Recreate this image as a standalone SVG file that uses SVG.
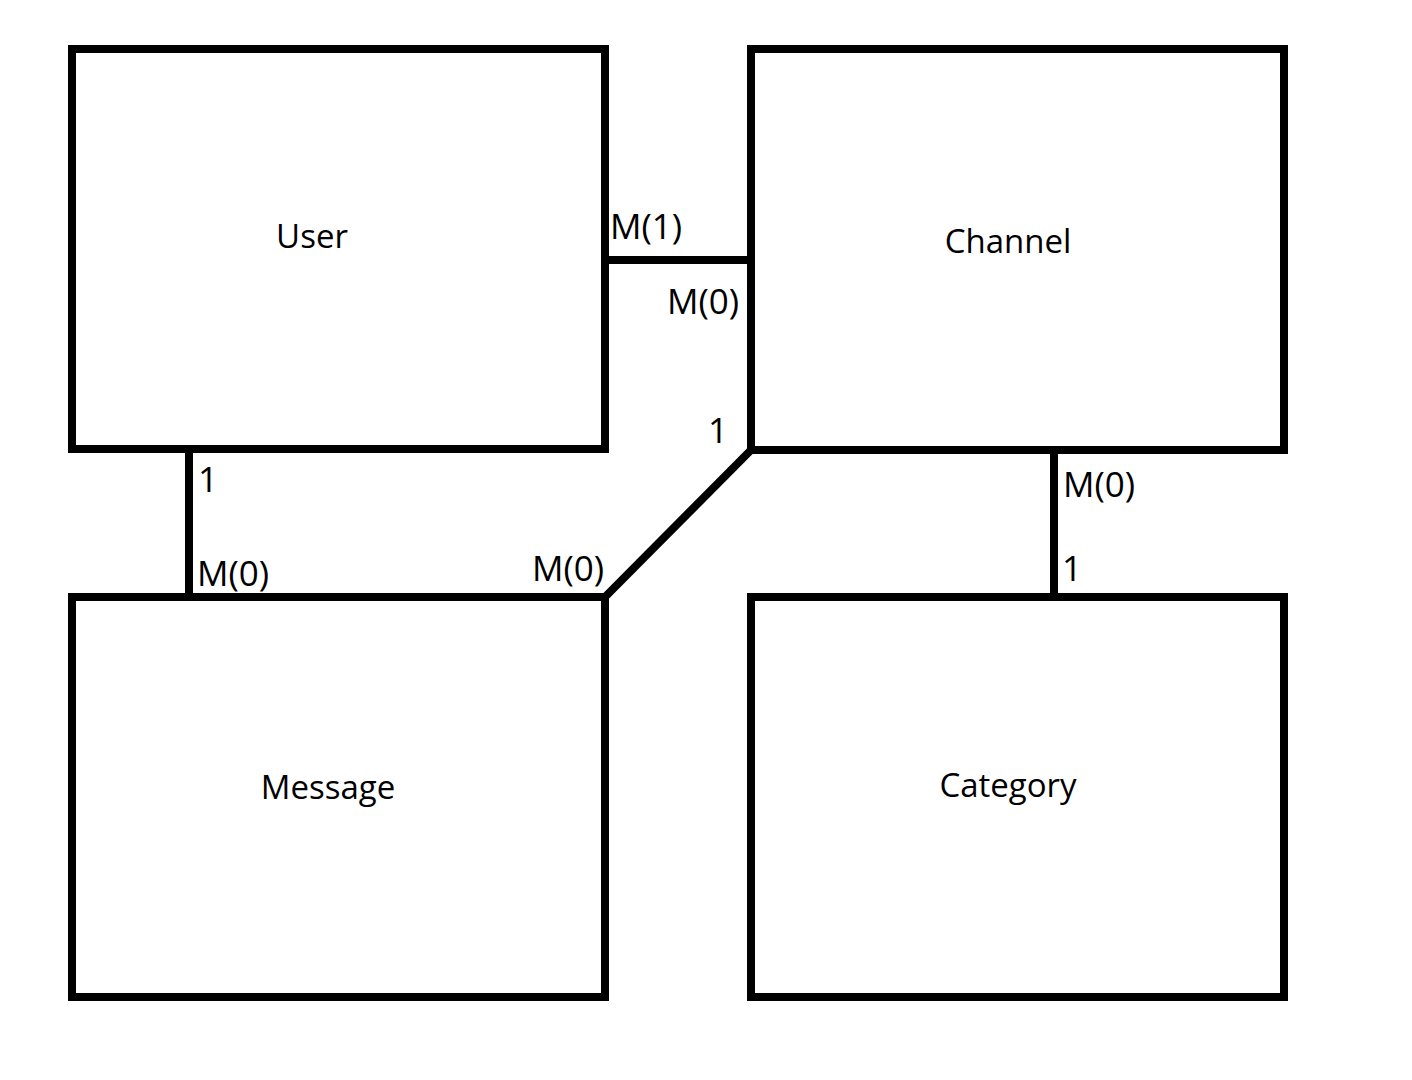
<svg xmlns="http://www.w3.org/2000/svg" width="1412" height="1080" viewBox="0 0 1412 1080">
<style>
.box{fill:#fff;stroke:#000;stroke-width:8}
.ln{stroke:#000;stroke-width:8;fill:none}
text{font-family:"Open Sans","Liberation Sans",sans-serif;font-size:33px;fill:#000}
.c{text-anchor:middle}
.lb{font-size:35px}
</style>
<rect width="1412" height="1080" fill="#fff"/>
<g id="connectors">
<line class="ln" x1="605" y1="260" x2="751" y2="260"/>
<line class="ln" x1="189" y1="449" x2="189" y2="597"/>
<line class="ln" x1="1054" y1="450" x2="1054" y2="597"/>
<line class="ln" x1="751" y1="450" x2="605" y2="597"/>
<text class="lb" x="610" y="239">M(1)</text>
<text class="lb" x="667" y="314">M(0)</text>
<text class="lb" x="708" y="443">1</text>
<text class="lb" x="198" y="492">1</text>
<text class="lb" x="197" y="586">M(0)</text>
<text class="lb" x="532" y="581">M(0)</text>
<text class="lb" x="1063" y="497">M(0)</text>
<text class="lb" x="1062" y="581">1</text>
</g>
<g id="user"><rect class="box" x="72" y="49" width="533" height="400"/><text class="c" x="312" y="248">User</text></g>
<g id="channel"><rect class="box" x="751" y="49" width="533" height="401"/><text class="c" x="1008" y="253">Channel</text></g>
<g id="message"><rect class="box" x="72" y="597" width="533" height="400"/><text class="c" x="328" y="799">Message</text></g>
<g id="category"><rect class="box" x="751" y="597" width="533" height="400"/><text class="c" x="1008" y="797">Category</text></g>
</svg>
